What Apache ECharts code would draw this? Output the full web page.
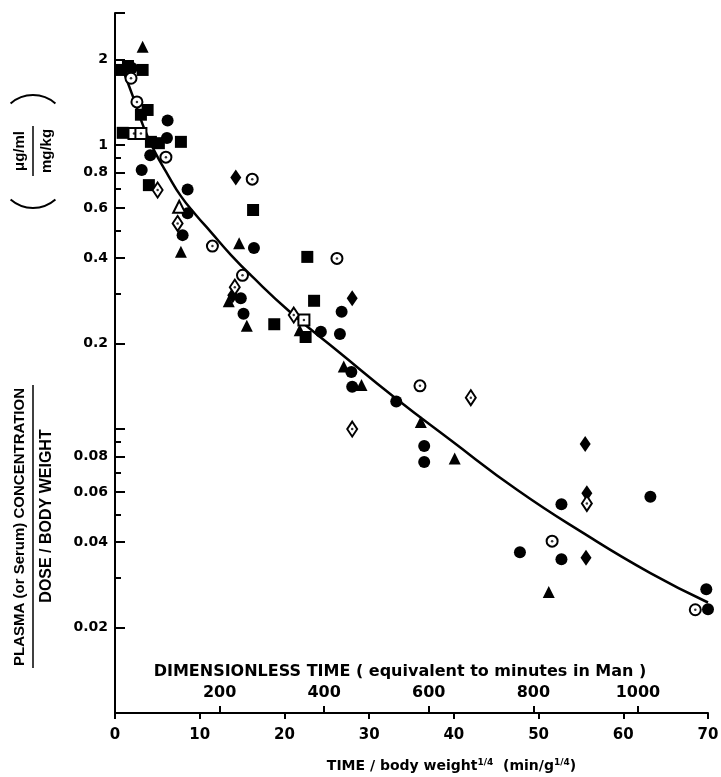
<!DOCTYPE html>
<html><head><meta charset="utf-8">
<script src="https://cdn.jsdelivr.net/npm/echarts@6/dist/echarts.min.js"></script>
<style>html,body{margin:0;padding:0;background:#fff}#c{width:721px;height:777px}</style>
</head><body><div id="c"></div>
<script>
// ---- axes / ticks ----
const xTickLabels = [0, 10, 20, 30, 40, 50, 60, 70];
const dimTickLabels = [200, 400, 600, 800, 1000];   // "minutes in Man"
const minutesPerUnit = 16.2;                       // dimensionless-time scale factor
const yTickLabels = [2, 1, 0.8, 0.6, 0.4, 0.2, 0.08, 0.06, 0.04, 0.02];
const yExtraMajorTicks = [0.1, 2.92];
const yMinorTicks = [0.9, 0.7, 0.5, 0.3, 0.09, 0.07, 0.05, 0.03];
const yMin = 0.01, yMax = 2.92;

// ---- fitted curve ----
const curve = [[0.9,1.85],[2.24,1.45],[3.42,1.15],[4.6,0.96],[6.3,0.78],[7.8,0.66],[9.5,0.57],
  [11.3,0.495],[13.7,0.41],[16.0,0.349],[20.7,0.258],[26.6,0.185],[32.9,0.130],[39.6,0.0915],
  [47.5,0.061],[55.3,0.043],[63.2,0.0311],[70.0,0.0245]];

// ---- data by marker type ----
const filledCircle = [[2.0,1.87],[6.21,1.22],[6.13,1.06],[4.16,0.922],[3.15,0.817],[8.57,0.698],
  [7.98,0.482],[16.4,0.434],[15.17,0.255],[24.3,0.220],[26.75,0.259],[26.55,0.216],[27.9,0.159],
  [28.0,0.141],[33.2,0.125],[36.5,0.0871],[36.5,0.0765],[52.7,0.0543],[63.2,0.0578],[47.8,0.0368],
  [52.7,0.0348],[69.8,0.0273],[70.0,0.0232],[8.57,0.575],[14.85,0.289]];
const filledSquare = [[0.82,1.84],[1.53,1.90],[3.26,1.84],[3.85,1.33],[3.06,1.28],[0.91,1.105],
  [4.24,1.027],[5.18,1.016],[7.78,1.027],[4.0,0.723],[16.3,0.591],[22.7,0.404],[23.5,0.283],
  [18.8,0.234],[22.5,0.211]];
const filledTriangle = [[3.26,2.22],[7.78,0.421],[14.65,0.451],[15.56,0.231],[21.8,0.223],[27.0,0.166],
  [29.1,0.143],[36.1,0.106],[40.1,0.0788],[51.2,0.0267],[13.43,0.282]];
const filledDiamond = [[14.26,0.769],[28.0,0.289],[55.5,0.0886],[55.7,0.0594],[55.6,0.0352],[13.9,0.296]];
const openCircle = [[1.89,1.72],[2.59,1.42],[6.01,0.907],[16.2,0.759],[11.5,0.441],[15.05,0.348],
  [26.2,0.399],[36.0,0.142],[51.6,0.0403],[68.5,0.0231]];
const openSquare = [[2.24,1.10],[3.06,1.10],[22.3,0.242]];
const openDiamond = [[5.03,0.695],[7.39,0.530],[14.14,0.316],[21.1,0.252],[42.0,0.129],[28.0,0.100],[55.7,0.0547]];
const openTriangle = [[7.58,0.607]];

const DJ = 'DejaVu Sans';
const chart = echarts.init(document.getElementById('c'), null, {renderer: 'canvas'});

function filled(data, symbol, size) {
  return {type: 'scatter', data, symbol, symbolSize: size, z: 4,
    itemStyle: {color: '#000', opacity: 1}, emphasis: {disabled: true}};
}
function open(data, symbol, size) {
  return {type: 'scatter', data, symbol, symbolSize: size, z: 4,
    itemStyle: {color: '#fff', borderColor: '#000', borderWidth: 2, opacity: 1}, emphasis: {disabled: true}};
}
function dots(data) {
  return {type: 'scatter', data, symbol: 'circle', symbolSize: 2.5, z: 5,
    itemStyle: {color: '#000'}, emphasis: {disabled: true}};
}

const option = {
  backgroundColor: '#fff',
  animation: false,
  grid: {left: 115, right: 13, top: 13, bottom: 64, containLabel: false, outerBoundsMode: 'none'},
  xAxis: [{
    type: 'value', min: 0, max: 70, interval: 10, position: 'bottom',
    axisLine: {show: true, lineStyle: {color: '#000', width: 2}},
    axisTick: {show: true, length: 6, lineStyle: {color: '#000', width: 2}},
    axisLabel: {margin: 15, color: '#000', fontFamily: DJ, fontWeight: 'bold', fontSize: 15,
      formatter: v => xTickLabels.includes(v) ? String(v) : ''},
    splitLine: {show: false},
    name: 'TIME / body weight{sup|1/4}  (min/g{sup|1/4})',
    nameLocation: 'middle', nameGap: 45,
    nameTextStyle: {color: '#000', fontFamily: DJ, fontWeight: 'bold', fontSize: 14, padding: [0, 0, 0, 80],
      rich: {sup: {fontFamily: DJ, fontWeight: 'bold', fontSize: 9, verticalAlign: 'top', padding: [0,0,8,0]}}}
  }, {
    type: 'value', min: 0, max: 70, position: 'bottom', offset: 0,
    axisLine: {show: false},
    axisTick: {show: true, inside: true, length: 7, lineStyle: {color: '#000', width: 2},
      customValues: dimTickLabels.map(m => m / minutesPerUnit)},
    axisLabel: {inside: true, margin: 12, color: '#000', fontFamily: DJ, fontWeight: 'bold', fontSize: 16,
      customValues: dimTickLabels.map(m => m / minutesPerUnit),
      formatter: v => String(Math.round(v * minutesPerUnit))},
    splitLine: {show: false}
  }],
  yAxis: [{
    type: 'log', logBase: 10, min: yMin, max: yMax, position: 'left',
    axisLine: {show: true, lineStyle: {color: '#000', width: 2}},
    axisTick: {show: true, inside: true, length: 10, lineStyle: {color: '#000', width: 2},
      customValues: yTickLabels.concat(yExtraMajorTicks)},
    axisLabel: {margin: 7, customValues: yTickLabels, color: '#000', fontFamily: DJ, fontWeight: 'bold', fontSize: 14,
      formatter: v => String(+(+v).toPrecision(2))},
    splitLine: {show: false}, minorTick: {show: false}
  }, {
    type: 'log', logBase: 10, min: yMin, max: yMax, position: 'left', offset: 0,
    axisLine: {show: false},
    axisTick: {show: true, inside: true, length: 6, lineStyle: {color: '#000', width: 2},
      customValues: yMinorTicks},
    axisLabel: {show: false},
    splitLine: {show: false}
  }],
  graphic: [
    {type: 'text', x: 20, y: 527, rotation: Math.PI / 2,
      style: {text: 'PLASMA (or Serum) CONCENTRATION', fill: '#000', font: 'bold 15px "Liberation Sans"', align: 'center', verticalAlign: 'middle'}},
    {type: 'line', shape: {x1: 33, y1: 385, x2: 33, y2: 668}, style: {stroke: '#000', lineWidth: 1.5}},
    {type: 'text', x: 47, y: 516, rotation: Math.PI / 2,
      style: {text: 'DOSE / BODY WEIGHT', fill: '#000', font: 'bold 16px "Liberation Sans"', align: 'center', verticalAlign: 'middle'}},
    {type: 'text', x: 20, y: 151, rotation: Math.PI / 2,
      style: {text: 'μg/ml', fill: '#000', font: 'bold 15px "Liberation Sans"', align: 'center', verticalAlign: 'middle'}},
    {type: 'line', shape: {x1: 33, y1: 126, x2: 33, y2: 176}, style: {stroke: '#000', lineWidth: 1.5}},
    {type: 'text', x: 47, y: 151, rotation: Math.PI / 2,
      style: {text: 'mg/kg', fill: '#000', font: 'bold 15px "Liberation Sans"', align: 'center', verticalAlign: 'middle'}},
    {type: 'arc', shape: {cx: 33, cy: 208 - 34, r: 34, startAngle: Math.PI / 2 - 0.72, endAngle: Math.PI / 2 + 0.72},
      style: {stroke: '#000', lineWidth: 2, fill: null}},
    {type: 'arc', shape: {cx: 33, cy: 95 + 34, r: 34, startAngle: -Math.PI / 2 - 0.72, endAngle: -Math.PI / 2 + 0.72},
      style: {stroke: '#000', lineWidth: 2, fill: null}},
    {type: 'text', x: 400, y: 672,
      style: {text: 'DIMENSIONLESS TIME ( equivalent to minutes in Man )', fill: '#000', font: 'bold 16px "DejaVu Sans"', align: 'center', verticalAlign: 'middle'}}
  ],
  series: [
    {type: 'line', data: curve, smooth: true, symbol: 'none', z: 2,
      lineStyle: {color: '#000', width: 2.5}, emphasis: {disabled: true}},
    filled(filledCircle, 'circle', 12),
    filled(filledSquare, 'rect', 12),
    filled(filledTriangle, 'triangle', 12),
    filled(filledDiamond, 'diamond', [11, 16]),
    open(openCircle, 'circle', 11),
    open(openSquare, 'rect', 11),
    open(openDiamond, 'diamond', [10, 15]),
    open(openTriangle, 'triangle', 12),
    dots(openCircle), dots(openSquare), dots(openDiamond)
  ]
};
chart.setOption(option);
</script>
</body></html>
